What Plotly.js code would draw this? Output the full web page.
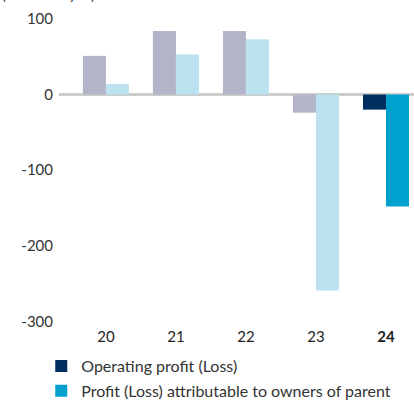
<!DOCTYPE html>
<html>
<head>
<meta charset="utf-8">
<script src="https://cdn.plot.ly/plotly-3.0.1.min.js"></script>
<style>
  html, body { margin: 0; padding: 0; background: #fff; }
  #chart { width: 414px; height: 400px; }
</style>
</head>
<body>
<div id="chart"></div>
<script>
// fiscal years, last one is the current year
const pastYears = ['20', '21', '22', '23'];
const currentYear = ['24'];
const yearLabels = ['20', '21', '22', '23', '<b>24</b>'];
const yTicks = [100, 0, -100, -200, -300];
const yTickLabels = ['100', '0', '-100', '-200', '-300'];

// billions of yen
const pastOperating = [51, 84, 84, -24];
const pastProfit = [14, 53, 73, -259];
const currentOperating = [-20];
const currentProfit = [-148];

const FONT = 'Lato, "Open Sans", sans-serif';

const traces = [
  {
    type: 'bar',
    x: pastYears,
    y: pastOperating,
    offsetgroup: 'op',
    marker: { color: '#b2b4c8' },
    showlegend: false,
  },
  {
    type: 'bar',
    x: pastYears,
    y: pastProfit,
    offsetgroup: 'np',
    marker: { color: '#bce2ef' },
    showlegend: false,
  },
  {
    type: 'bar',
    name: 'Operating profit (Loss)',
    x: currentYear,
    y: currentOperating,
    offsetgroup: 'op',
    legendgroup: 'op',
    marker: { color: '#002f5f' },
  },
  {
    type: 'bar',
    name: 'Profit (Loss) attributable to owners of parent',
    x: currentYear,
    y: currentProfit,
    offsetgroup: 'np',
    legendgroup: 'np',
    marker: { color: '#00a1cc' },
  },
];

const layout = {
  width: 414,
  height: 400,
  margin: { l: 59, r: 0, t: 10, b: 72, pad: 0, autoexpand: false },
  paper_bgcolor: '#fff',
  plot_bgcolor: '#fff',
  font: { family: FONT, size: 15, color: '#333' },
  barmode: 'group',
  bargap: 0.343,
  bargroupgap: 0,
  xaxis: {
    type: 'category',
    categoryorder: 'array',
    categoryarray: ['20', '21', '22', '23', '24'],
    tickvals: ['20', '21', '22', '23', '24'],
    ticktext: yearLabels,
    range: [-0.67, 4.4],
    showgrid: false,
    showline: false,
    zeroline: false,
    ticks: '',
    ticklabelstandoff: -2,
    tickfont: { family: FONT, size: 15, color: '#222' },
  },
  yaxis: {
    range: [-308.4, 111.6],
    tickvals: yTicks,
    ticktext: yTickLabels,
    showgrid: false,
    showline: false,
    zeroline: true,
    zerolinecolor: '#cccccc',
    zerolinewidth: 3,
    ticks: '',
    ticklabelstandoff: 5,
    tickfont: { family: FONT, size: 15, color: '#333' },
  },
  legend: {
    orientation: 'v',
    x: -0.05,
    xanchor: 'left',
    y: -0.066,
    yanchor: 'top',
    font: { family: FONT, size: 16, color: '#333' },
    tracegroupgap: 1,
    bgcolor: 'rgba(0,0,0,0)',
  },
  annotations: [{
    // unit label, mostly cut off at the top edge
    text: '(Billions of yen)',
    xref: 'paper',
    yref: 'paper',
    x: -0.166,
    y: 1,
    xanchor: 'left',
    yanchor: 'bottom',
    yshift: 5,
    showarrow: false,
    font: { family: FONT, size: 14, color: '#333' },
  }],
};

Plotly.newPlot('chart', traces, layout, { displayModeBar: false, staticPlot: true });
</script>
</body>
</html>
